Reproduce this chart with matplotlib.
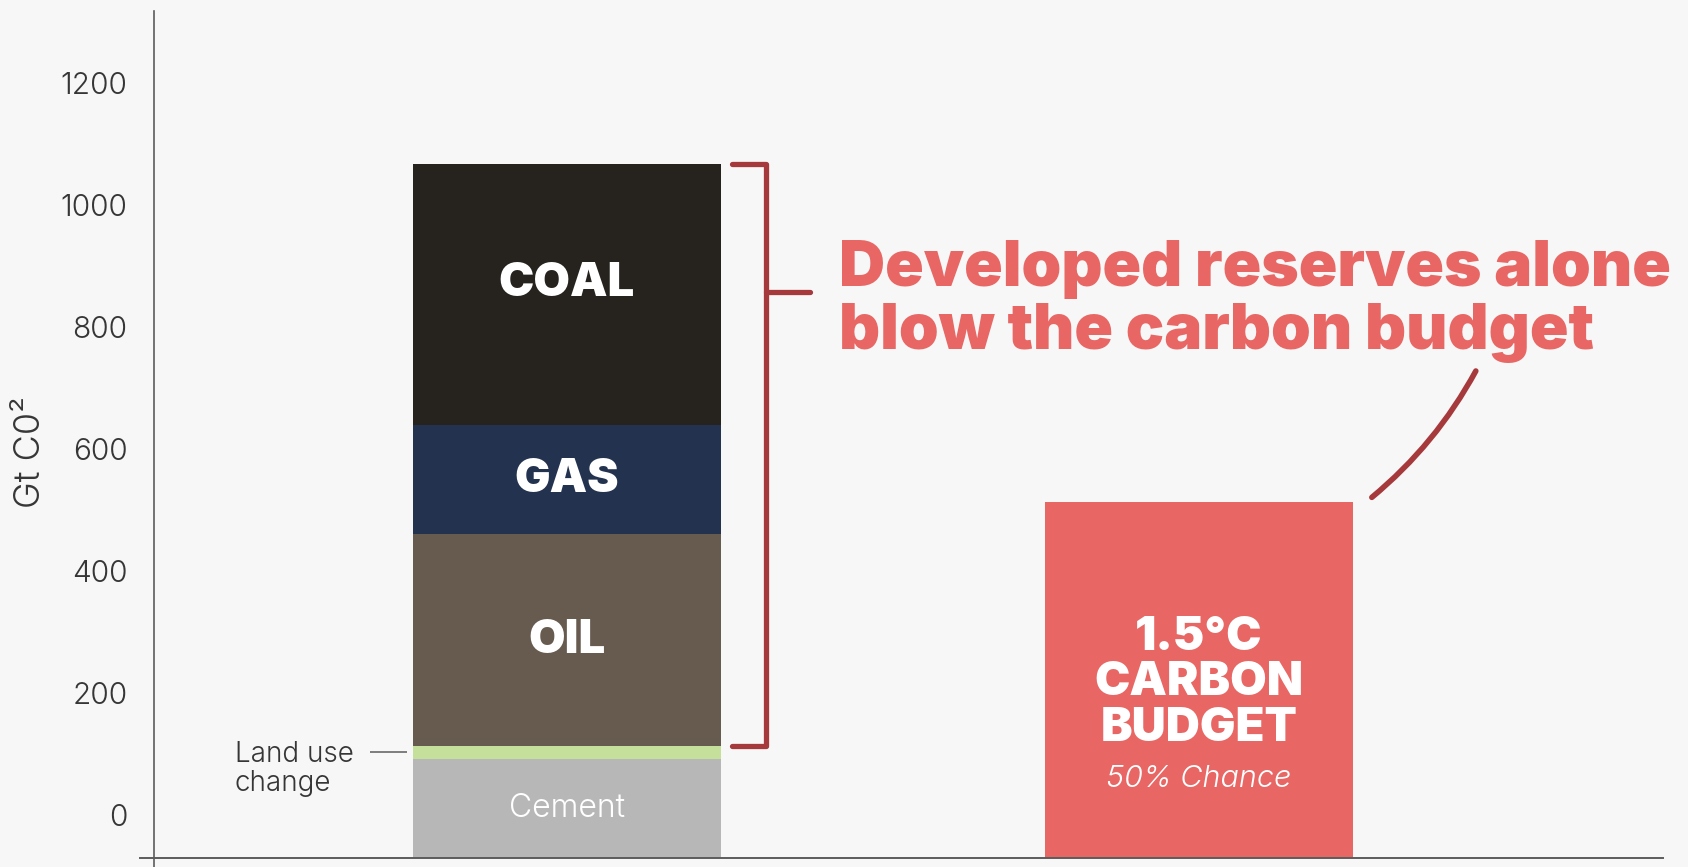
import matplotlib
matplotlib.use("Agg")
import matplotlib.pyplot as plt
import matplotlib.transforms as mtransforms
from matplotlib.lines import Line2D
from matplotlib.patches import FancyArrowPatch
import numpy as np

# ── data (Gt CO2) ────────────────────────────────────────────────────────
segment_names  = ["Cement", "Land use change", "OIL", "GAS", "COAL"]
segment_values = [162, 22, 347, 179, 427]
segment_colors = ["#b7b7b7", "#c4e09a", "#675b4f", "#23324e", "#26231f"]
budget_value   = 584
budget_title   = "1.5°C\nCARBON\nBUDGET"
budget_note    = "50% Chance"
ytick_values   = [0, 200, 400, 600, 800, 1000, 1200]
headline       = "Developed reserves alone\nblow the carbon budget"

BG      = "#f7f7f7"
RED     = "#e86663"
DARKRED = "#a6393c"
AXIS    = "#5c5c5c"
INK     = "#363636"

plt.rcParams["font.family"] = ["Inter", "DejaVu Sans"]

fig = plt.figure(figsize=(16.88, 8.67), dpi=100, facecolor=BG)
ax = fig.add_axes([0.0912, 0.0104, 0.894, 0.977])
ax.set_facecolor(BG)
ax.set_xlim(-0.653, 1.734)
ax.set_ylim(0, 1388)
for s in ax.spines.values():
    s.set_visible(False)

bar_w = 0.487

# ── stacked reserves bar ─────────────────────────────────────────────────
bottoms = np.concatenate([[0], np.cumsum(segment_values)[:-1]])
for name, v, b, c in zip(segment_names, segment_values, bottoms, segment_colors):
    ax.bar(0, v, bottom=b, width=bar_w, color=c, linewidth=0, zorder=2)

label_pos = {"OIL": 0.495, "GAS": 0.49, "COAL": 0.54}
for name, v, b in zip(segment_names, segment_values, bottoms):
    if name in label_pos:
        ax.text(0, b + v * label_pos[name], name, ha="center", va="center",
                color="white", fontsize=34, fontweight=900, zorder=3)
    elif name == "Cement":
        ax.text(0, b + v / 2, name, ha="center", va="center", color="white",
                fontsize=23, fontweight=300, zorder=3)

# land use leader + label
lu_mid = bottoms[1] + segment_values[1] / 2
ax.plot([-bar_w / 2 - 0.068, -bar_w / 2 - 0.01], [lu_mid, lu_mid],
        color=AXIS, lw=1.1, solid_capstyle="butt")
ax.annotate("Land use\nchange", xy=(-0.525, lu_mid), xytext=(0, 8),
            textcoords="offset points", ha="left", va="top",
            fontsize=20, fontweight=300, color=INK, linespacing=1.1)

# bracket over oil+gas+coal
br_bot = bottoms[2]
br_top = bottoms[-1] + segment_values[-1]
bx = 0.315
ax.plot([0.261, bx, bx, 0.261], [br_top, br_top, br_bot, br_bot],
        color=DARKRED, lw=3.8, solid_joinstyle="round", solid_capstyle="round",
        zorder=3)
tick_y = 928
ax.plot([bx, 0.385], [tick_y, tick_y], color=DARKRED, lw=3.8,
        solid_capstyle="round", zorder=3)

ax.text(0.43, tick_y - 16, headline, ha="left", va="center", color=RED,
        fontsize=46, fontweight=900, linespacing=1.08)

# ── carbon budget bar ────────────────────────────────────────────────────
ax.bar(1, budget_value, width=bar_w, color=RED, linewidth=0, zorder=2)
ax.text(1, budget_value * 0.49, budget_title, ha="center", va="center",
        color="white", fontsize=34, fontweight=900, linespacing=1.04,
        zorder=3)
ax.text(1, budget_value * 0.222, budget_note, ha="center", va="center",
        color="white", fontsize=22, fontweight=300, style="italic",
        zorder=3)

# curved stroke from headline to budget bar
stroke = FancyArrowPatch(posA=(1.44, 802), posB=(1.27, 588),
                         arrowstyle="-", connectionstyle="arc3,rad=-0.1",
                         color=DARKRED, lw=4, capstyle="round", zorder=3)
ax.add_patch(stroke)

# ── axes ─────────────────────────────────────────────────────────────────
ax.set_xticks([])
ax.set_yticks(ytick_values)
ax.set_yticklabels([str(v) for v in ytick_values])
ax.tick_params(axis="y", length=0, pad=19, labelsize=21.5, labelcolor=INK)
shift = mtransforms.ScaledTranslation(0, 0.43, fig.dpi_scale_trans)
for lab in ax.get_yticklabels():
    lab.set_transform(lab.get_transform() + shift)
    lab.set_fontweight(300)

fig.add_artist(Line2D([154 / 1688, 154 / 1688], [0.0, 1 - 11 / 867],
                      transform=fig.transFigure, color=AXIS, lw=1.2))
fig.add_artist(Line2D([140 / 1688, 1663 / 1688], [1 - 858 / 867, 1 - 858 / 867],
                      transform=fig.transFigure, color=AXIS, lw=1.4))

fig.text(30 / 1688, 1 - 452 / 867, "Gt C0²", rotation=90, ha="center",
         va="center", fontsize=26, fontweight=300, color=INK)

fig.savefig("out.png", dpi=100, facecolor=BG)
